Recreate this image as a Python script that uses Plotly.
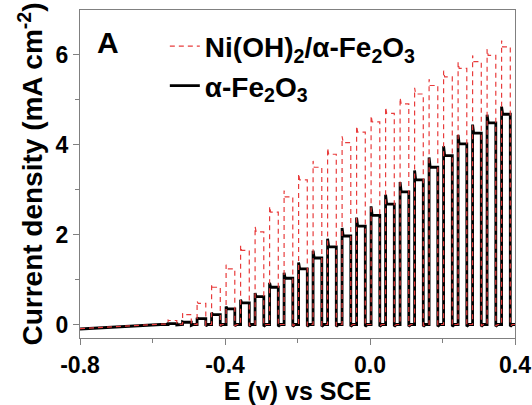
import plotly.graph_objects as go

# ---- data (potential in V vs SCE, current density in mA cm^-2) ----
base_E = [-0.800, -0.760, -0.720, -0.680, -0.640, -0.600, -0.577]
base_black = [-0.10, -0.08, -0.06, -0.04, -0.02, 0.00, 0.00]
base_red = [-0.09, -0.07, -0.05, -0.03, -0.01, 0.01, 0.01]

pulse_on = [-0.557, -0.517, -0.477, -0.437, -0.397, -0.357, -0.317, -0.277,
            -0.237, -0.197, -0.157, -0.117, -0.077, -0.037, 0.003, 0.043,
            0.083, 0.123, 0.163, 0.203, 0.243, 0.283, 0.323, 0.363]
pulse_off = [-0.533, -0.493, -0.453, -0.413, -0.373, -0.333, -0.293, -0.253,
             -0.213, -0.173, -0.133, -0.093, -0.053, -0.013, 0.027, 0.067,
             0.107, 0.147, 0.187, 0.227, 0.267, 0.307, 0.347, 0.387]

black_peak = [0.02, 0.06, 0.15, 0.26, 0.40, 0.55, 0.70, 0.93, 1.15, 1.38, 1.64, 1.91,
              2.15, 2.38, 2.63, 2.89, 3.17, 3.43, 3.72, 3.97, 4.22, 4.45, 4.67, 4.85]
black_plateau = [0.02, 0.05, 0.13, 0.22, 0.35, 0.48, 0.62, 0.83, 1.03, 1.24, 1.48, 1.73,
                 1.97, 2.19, 2.43, 2.68, 2.95, 3.22, 3.50, 3.76, 4.02, 4.26, 4.49, 4.68]
black_dark = [0.00, 0.00, 0.00, 0.00, 0.00, 0.00, 0.00, 0.00, 0.00, 0.00, 0.00, 0.00,
              0.00, 0.00, 0.00, 0.00, 0.00, 0.00, 0.00, 0.00, 0.00, 0.00, 0.00, 0.00]
black_dip = [-0.01, -0.02, -0.03, -0.03, -0.03, -0.04, -0.04, -0.04, -0.04, -0.04, -0.04, -0.04,
             -0.04, -0.04, -0.04, -0.04, -0.04, -0.04, -0.04, -0.04, -0.04, -0.04, -0.04, -0.04]

red_peak = [0.10, 0.25, 0.52, 0.90, 1.33, 1.76, 2.18, 2.63, 2.98, 3.36, 3.64, 3.93,
            4.19, 4.42, 4.65, 4.84, 5.05, 5.27, 5.46, 5.65, 5.84, 5.99, 6.13, 6.32]
red_plateau = [0.09, 0.22, 0.47, 0.83, 1.24, 1.65, 2.06, 2.50, 2.84, 3.22, 3.50, 3.79,
               4.05, 4.28, 4.51, 4.70, 4.91, 5.13, 5.32, 5.51, 5.70, 5.85, 5.99, 6.18]
red_dark = [0.01, 0.01, 0.00, 0.00, 0.00, 0.00, 0.00, 0.00, 0.00, 0.00, 0.00, 0.00,
            0.00, 0.00, 0.00, 0.00, 0.00, 0.00, 0.00, 0.00, 0.00, 0.00, 0.00, 0.00]
red_dip = [0.00, -0.01, -0.02, -0.02, -0.03, -0.03, -0.03, -0.03, -0.03, -0.03, -0.03, -0.03,
           -0.03, -0.03, -0.03, -0.03, -0.03, -0.03, -0.03, -0.03, -0.03, -0.03, -0.03, -0.03]

tail_E = [0.400]
tail_black = [0.00]
tail_red = [0.00]

SPIKE_DE = 0.003   # width of the transient spike
DIP_DE = 0.006     # width of the dark transient


def chopped(base_y, dark, peak, plateau, dip, tail_y):
    xs, ys = list(base_E), list(base_y)
    for i in range(len(pulse_on)):
        e_on, e_off = pulse_on[i], pulse_off[i]
        xs += [e_on, e_on, e_on + SPIKE_DE, e_off, e_off, e_off + DIP_DE]
        ys += [dark[i], peak[i], plateau[i], plateau[i], dip[i], dark[i]]
    xs += tail_E
    ys += tail_y
    return xs, ys


font_family = "Liberation Sans, Arial, sans-serif"

bx, by = chopped(base_black, black_dark, black_peak, black_plateau, black_dip, tail_black)
rx, ry = chopped(base_red, red_dark, red_peak, red_plateau, red_dip, tail_red)

fig = go.Figure()
fig.add_trace(go.Scatter(
    x=bx, y=by, mode="lines", name="<b>α-Fe<sub>2</sub>O<sub>3</sub></b>",
    line=dict(color="#000000", width=2.8), legendrank=2, legendgroup="b"))
fig.add_trace(go.Scatter(
    x=rx, y=ry, mode="lines", name="<b>Ni(OH)<sub>2</sub>/α-Fe<sub>2</sub>O<sub>3</sub></b>",
    line=dict(color="rgb(232,60,60)", width=1.2, dash="5px,4px"), legendrank=1, legendgroup="r"))

axis_common = dict(
    showgrid=False, zeroline=False, showline=True, linecolor="#808080", linewidth=1,
    mirror=True, ticks="outside", ticklen=6, tickwidth=1, tickcolor="#808080",
    tickfont=dict(family=font_family, size=23, color="#000", weight="bold"),
    automargin=False,
)

fig.update_layout(
    width=532, height=405,
    margin=dict(l=80, r=17, t=10, b=67),
    template="none",
    paper_bgcolor="white", plot_bgcolor="white",
    font=dict(family=font_family, color="#000"),
    xaxis=dict(
        range=[-0.8, 0.4],
        tickvals=[-0.8, -0.4, 0.0, 0.4], ticktext=["-0.8", "-0.4", "0.0", "0.4"],
        minor=dict(tickvals=[-0.6, -0.2, 0.2], ticks="outside", ticklen=4, tickcolor="#808080"),
        title=dict(text="<b>E (v) vs SCE</b>", standoff=28,
                   font=dict(family=font_family, size=25, color="#000", weight="bold")),
        **axis_common),
    yaxis=dict(
        range=[-0.3, 7.0],
        tickvals=[0, 2, 4, 6], ticktext=["0", "2", "4", "6"],
        minor=dict(tickvals=[1, 3, 5], ticks="outside", ticklen=4, tickcolor="#808080"),
        title=dict(text="<b>Current density (mA cm<sup>-2</sup>)</b>", standoff=4,
                   font=dict(family=font_family, size=28, color="#000", weight="bold")),
        **axis_common),
    legend=dict(
        x=0.195, y=0.965, xanchor="left", yanchor="top",
        bgcolor="rgba(0,0,0,0)", borderwidth=0,
        traceorder="grouped", tracegroupgap=0,
        font=dict(family=font_family, size=28, color="#000", weight="bold"),
    ),
    showlegend=True,
)

fig.add_annotation(
    text="<b>A</b>", xref="paper", yref="paper", x=0.064, y=0.90,
    xanchor="center", yanchor="middle", showarrow=False,
    font=dict(family=font_family, size=30, color="#000", weight="bold"))

fig.write_html("out.html")
